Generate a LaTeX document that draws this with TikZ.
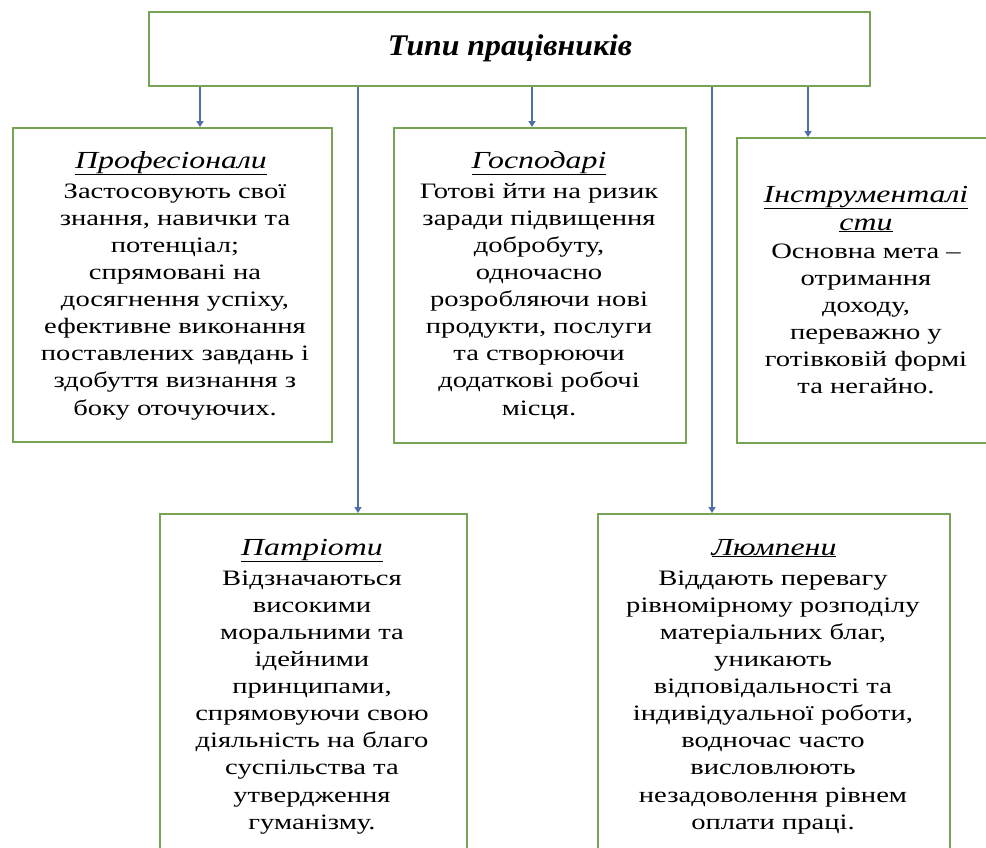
\documentclass[tikz,border=0pt]{standalone}
\usepackage{fontspec}
\setmainfont[FakeStretch=1.3]{Liberation Serif}
\newfontfamily\titlefont[FakeStretch=1.06]{Liberation Serif}
\usetikzlibrary{arrows.meta}
\definecolor{boxgreen}{HTML}{77A354}
\definecolor{linkblue}{HTML}{4F6FA6}
\begin{document}
\begin{tikzpicture}[x=1pt,y=-1pt,
  box/.style={draw=boxgreen, line width=2pt, inner sep=0pt, anchor=north west},
  conn/.style={draw=linkblue, line width=1.6pt, -{Triangle[length=6pt,width=7pt]}},
  head/.style={anchor=base, inner sep=0pt, font=\fontsize{24.5}{29}\selectfont\itshape},
  body/.style={align=center, font=\fontsize{22}{27.1}\selectfont, inner sep=0pt, anchor=north}]
\useasboundingbox (0,0) rectangle (986,847);
\clip (0,0) rectangle (986,847);
% title
\node[draw=boxgreen, line width=2pt, minimum width=721pt, minimum height=74pt] (title) at (509.5,49) {};
\node[anchor=base, inner sep=0pt, font=\titlefont\fontsize{30}{34}\selectfont\bfseries\itshape] (titlet) at (510,55) {Типи працівників};
% boxes
\node[box, minimum width=319pt, minimum height=314pt] (prof) at (12,127) {};
\node[box, minimum width=292pt, minimum height=315pt] (hosp) at (393,127) {};
\node[box, minimum width=270pt, minimum height=305pt] (instr) at (736,137) {};
\node[box, minimum width=307pt, minimum height=360pt] (patr) at (159,513) {};
\node[box, minimum width=352pt, minimum height=360pt] (lyum) at (597,513) {};
% headings
\node[head] (profh) at (171,168) {\underline{Професіонали}};
\node[head] (hosph) at (539,168) {\underline{Господарі}};
\node[head] (instrh) at (866,202) {\underline{Інструменталі}};
\node[head] (instrh2) at (866,230) {\underline{сти}};
\node[head] (patrh) at (312,555) {\underline{Патріоти}};
\node[head] (lyumh) at (774,555) {\underline{Люмпени}};
% texts
\node[body] (proft) at (175,178) {\rule{0pt}{20pt}Застосовують свої\\ знання, навички та\\ потенціал;\\ спрямовані на\\ досягнення успіху,\\ ефективне виконання\\ поставлених завдань і\\ здобуття визнання з\\ боку оточуючих.};
\node[body] (hospt) at (539,178) {\rule{0pt}{20pt}Готові йти на ризик\\ заради підвищення\\ добробуту,\\ одночасно\\ розробляючи нові\\ продукти, послуги\\ та створюючи\\ додаткові робочі\\ місця.};
\node[body] (instrt) at (866,238) {\rule{0pt}{20pt}Основна мета –\\ отримання\\ доходу,\\ переважно у\\ готівковій формі\\ та негайно.};
\node[body] (patrt) at (312,565) {\rule{0pt}{20pt}Відзначаються\\ високими\\ моральними та\\ ідейними\\ принципами,\\ спрямовуючи свою\\ діяльність на благо\\ суспільства та\\ утвердження\\ гуманізму.};
\node[body] (lyumt) at (773,565) {\rule{0pt}{20pt}Віддають перевагу\\ рівномірному розподілу\\ матеріальних благ,\\ уникають\\ відповідальності та\\ індивідуальної роботи,\\ водночас часто\\ висловлюють\\ незадоволення рівнем\\ оплати праці.};
% connectors
\draw[conn] (title.south -| 200,0) -- (prof.north -| 200,0);
\draw[conn] (title.south -| 358,0) -- (patr.north -| 358,0);
\draw[conn] (title.south -| 532,0) -- (hosp.north -| 532,0);
\draw[conn] (title.south -| 712,0) -- (lyum.north -| 712,0);
\draw[conn] (title.south -| 808,0) -- (instr.north -| 808,0);
\end{tikzpicture}
\end{document}
